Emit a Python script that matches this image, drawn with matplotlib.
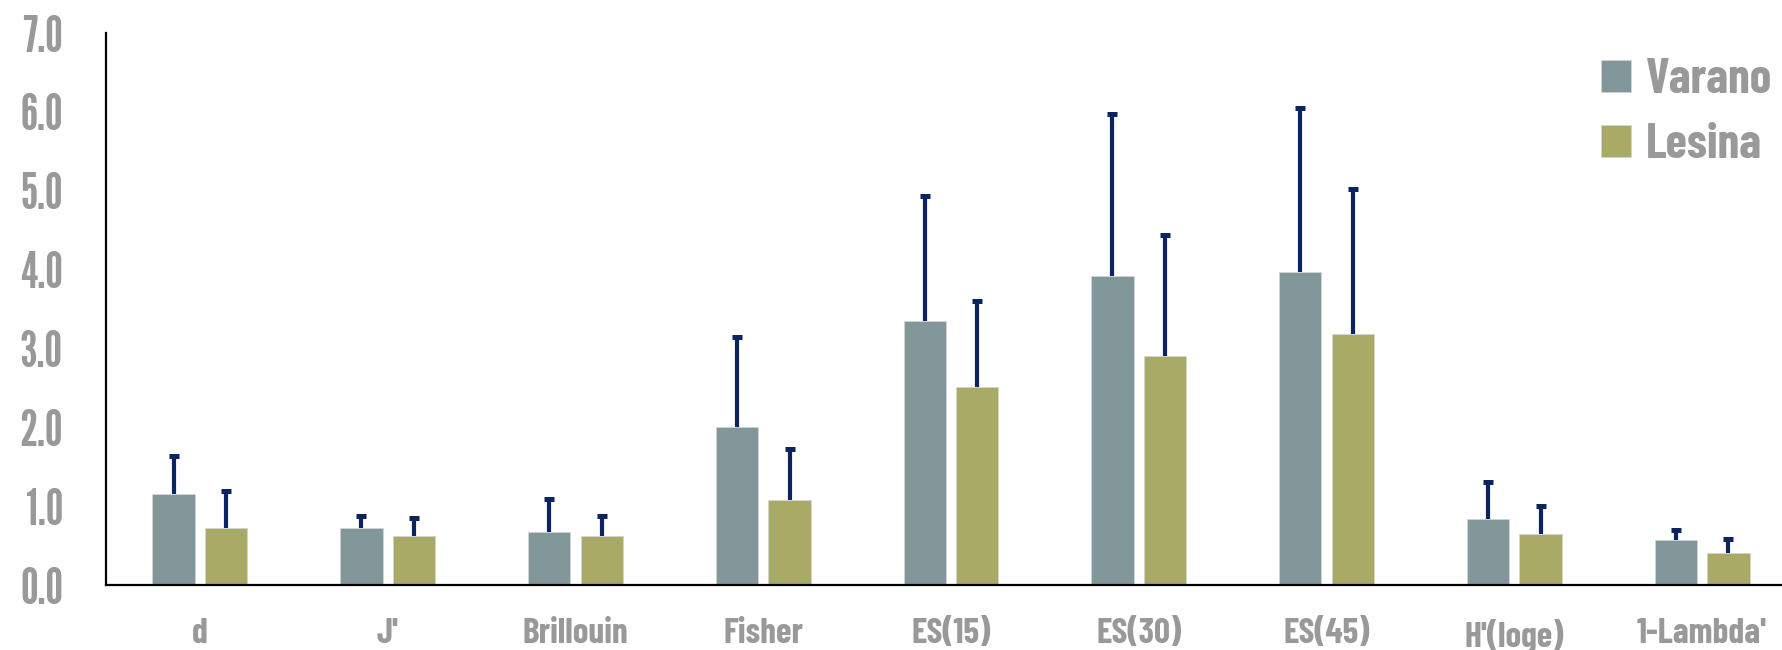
import matplotlib
matplotlib.use("Agg")
import matplotlib.pyplot as plt
import numpy as np
from matplotlib.patches import Patch

categories = ["d", "J'", "Brillouin", "Fisher", "ES(15)", "ES(30)", "ES(45)", "H'(loge)", "1-Lambda'"]
varano = [1.15, 0.72, 0.67, 2.00, 3.35, 3.92, 3.97, 0.84, 0.57]
varano_err = [0.49, 0.15, 0.42, 1.14, 1.58, 2.05, 2.08, 0.47, 0.13]
lesina = [0.72, 0.62, 0.62, 1.08, 2.51, 2.91, 3.18, 0.65, 0.40]
lesina_err = [0.47, 0.23, 0.25, 0.64, 1.09, 1.53, 1.84, 0.35, 0.18]
series_names = ["Varano", "Lesina"]
yticks = [0, 1, 2, 3, 4, 5, 6, 7]

C_VAR = "#81979A"
C_LES = "#A8AA66"
C_ERR = "#0B2461"
C_TXT = "#999999"
FONT_NUM = ["League Gothic", "DejaVu Sans"]
FONT_TXT = ["Barlow Condensed", "DejaVu Sans"]

W, H, DPI = 1782, 650, 100
fig = plt.figure(figsize=(W / DPI, H / DPI), dpi=DPI)
ax = fig.add_axes([106 / W, 65 / H, 1690 / W, 552 / H])

x = np.arange(len(categories))
bw = 0.225
off = 0.14

for vals, errs, pos, col in [(varano, varano_err, x - off, C_VAR), (lesina, lesina_err, x + off, C_LES)]:
    vals = np.array(vals)
    errs = np.array(errs)
    ax.bar(pos, vals, width=bw, color=col, edgecolor="#d4d4d4", linewidth=0.6, zorder=2)
    ax.vlines(pos, vals, vals + errs, color=C_ERR, linewidth=3.0, zorder=3)
    ax.plot(pos, vals + errs, linestyle="none", marker="_", markersize=7.5,
            markeredgewidth=3.6, color=C_ERR, zorder=3)

ax.set_xlim(-0.5, len(categories) - 0.5)
ax.set_ylim(0, 7)
ax.set_yticks(yticks)
ax.set_yticklabels([f"{v:.1f}" for v in yticks])
ax.set_xticks(x)
ax.set_xticklabels(categories)

for s in ["top", "right"]:
    ax.spines[s].set_visible(False)
for s in ["left", "bottom"]:
    ax.spines[s].set_color("black")
    ax.spines[s].set_linewidth(1.6)

ax.tick_params(axis="y", length=0, pad=31, labelsize=36, labelcolor=C_TXT)
ax.tick_params(axis="x", length=0, pad=24, labelsize=25.5, labelcolor=C_TXT)
for lab in ax.get_yticklabels():
    lab.set_family(FONT_NUM)
for lab in ax.get_xticklabels():
    lab.set_family(FONT_TXT)
    lab.set_fontweight("bold")

handles = [Patch(facecolor=C_VAR, edgecolor="#d4d4d4", linewidth=0.6),
           Patch(facecolor=C_LES, edgecolor="#d4d4d4", linewidth=0.6)]
leg = fig.legend(handles, series_names, loc="upper right",
                 bbox_to_anchor=(1772 / W, 1 - 58 / H), frameon=False,
                 prop={"family": FONT_TXT, "size": 35, "weight": "bold"},
                 handlelength=0.62, handleheight=0.62, handletextpad=0.3,
                 labelspacing=0.43, borderpad=0, borderaxespad=0)
for t in leg.get_texts():
    t.set_color(C_TXT)

fig.savefig("out.png", dpi=DPI)
